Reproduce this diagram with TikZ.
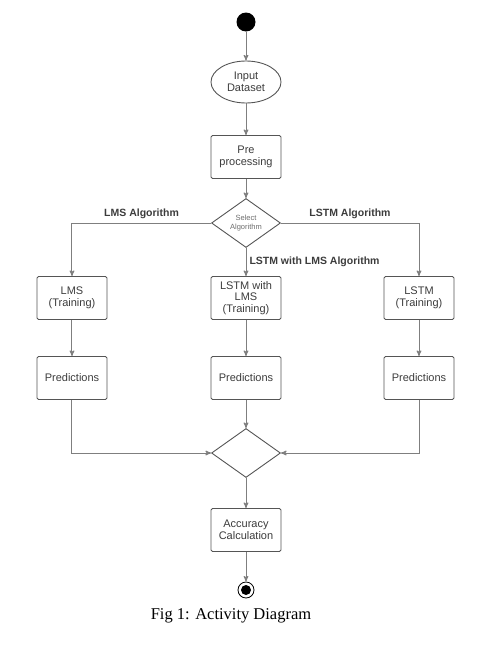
\documentclass[tikz,border=0pt]{standalone}
\usepackage{fontspec}
\setmainfont{Liberation Serif}
\setsansfont{Liberation Sans}
\usetikzlibrary{shapes.geometric, arrows, positioning}
\definecolor{lineGray}{HTML}{7F7F7F}
\definecolor{boxGray}{HTML}{555555}
\definecolor{textGray}{HTML}{3C3C3C}
\tikzset{
  activity/.style={draw=boxGray, line width=0.9pt, rounded corners=1.5pt, minimum width=70pt, minimum height=43pt,
    inner sep=2pt, align=center, text=textGray, font=\sffamily\fontsize{11}{11.5}\selectfont},
  dataset/.style={ellipse, draw=boxGray, line width=0.9pt, minimum width=70pt, minimum height=42pt,
    inner sep=0pt, align=center, text=textGray, font=\sffamily\fontsize{11}{11.5}\selectfont},
  decision/.style={diamond, draw=boxGray, line width=0.9pt, minimum width=69pt, minimum height=49pt,
    inner sep=0pt, align=center, text=gray!85!black, font=\sffamily\fontsize{7.5}{8.5}\selectfont},
  initstate/.style={circle, fill=black, minimum size=19pt, inner sep=0pt},
  finalstate/.style={circle, draw=black, line width=0.8pt, minimum size=16pt, inner sep=0pt,
    path picture={\fill[black] (path picture bounding box.center) circle (5pt);}},
  guard/.style={text=textGray, font=\sffamily\bfseries\fontsize{10.5}{12}\selectfont},
  flow/.style={draw=lineGray, line width=1pt}
}
\begin{document}
\begin{tikzpicture}[->,>=stealth',node distance=75pt, every edge/.style={flow}]
\useasboundingbox (-246pt,22pt) rectangle (253pt,-631pt);

\node[initstate] (start) at (0,0) {};
\node[dataset] (data) [below of=start, node distance=60pt] {Input\\Dataset};
\node[activity] (pre) [below of=data] {Pre\\processing};
\node[decision] (sel) [below of=pre, node distance=66pt] {Select\\Algorithm};
\node[activity] (mtrain) [below of=sel] {LSTM with\\LMS\\(Training)};
\node[activity] (ltrain) [left of=mtrain, node distance=174pt] {LMS\\(Training)};
\node[activity] (rtrain) [right of=mtrain, node distance=173pt] {LSTM\\(Training)};
\node[activity] (mpred) [below of=mtrain, node distance=80pt] {Predictions};
\node[activity] (lpred) [below of=ltrain, node distance=80pt] {Predictions};
\node[activity] (rpred) [below of=rtrain, node distance=80pt] {Predictions};
\node[decision] (merge) [below of=mpred] {};
\node[activity] (acc) [below of=merge, node distance=77pt] {Accuracy\\Calculation};
\node[finalstate] (finish) [below of=acc, node distance=60pt] {};
\node (caption) [below of=finish, node distance=26pt, xshift=-15pt, font=\fontsize{16.5}{19}\selectfont] {Fig 1: Activity Diagram};

\path (start) edge (data)
      (data) edge (pre)
      (pre) edge (sel)
      (sel) edge node[guard, right, inner sep=3pt] {LSTM with LMS Algorithm} (mtrain)
      (ltrain) edge (lpred)
      (mtrain) edge (mpred)
      (rtrain) edge (rpred)
      (mpred) edge (merge)
      (merge) edge (acc)
      (acc) edge (finish);

\draw[flow] (sel.west) -| node[guard, above, pos=0.25, inner sep=4pt] {LMS Algorithm} (ltrain);
\draw[flow] (sel.east) -| node[guard, above, pos=0.25, inner sep=4pt] {LSTM Algorithm} (rtrain);
\draw[flow] (lpred) |- (merge.west);
\draw[flow] (rpred) |- (merge.east);

\end{tikzpicture}
\end{document}
